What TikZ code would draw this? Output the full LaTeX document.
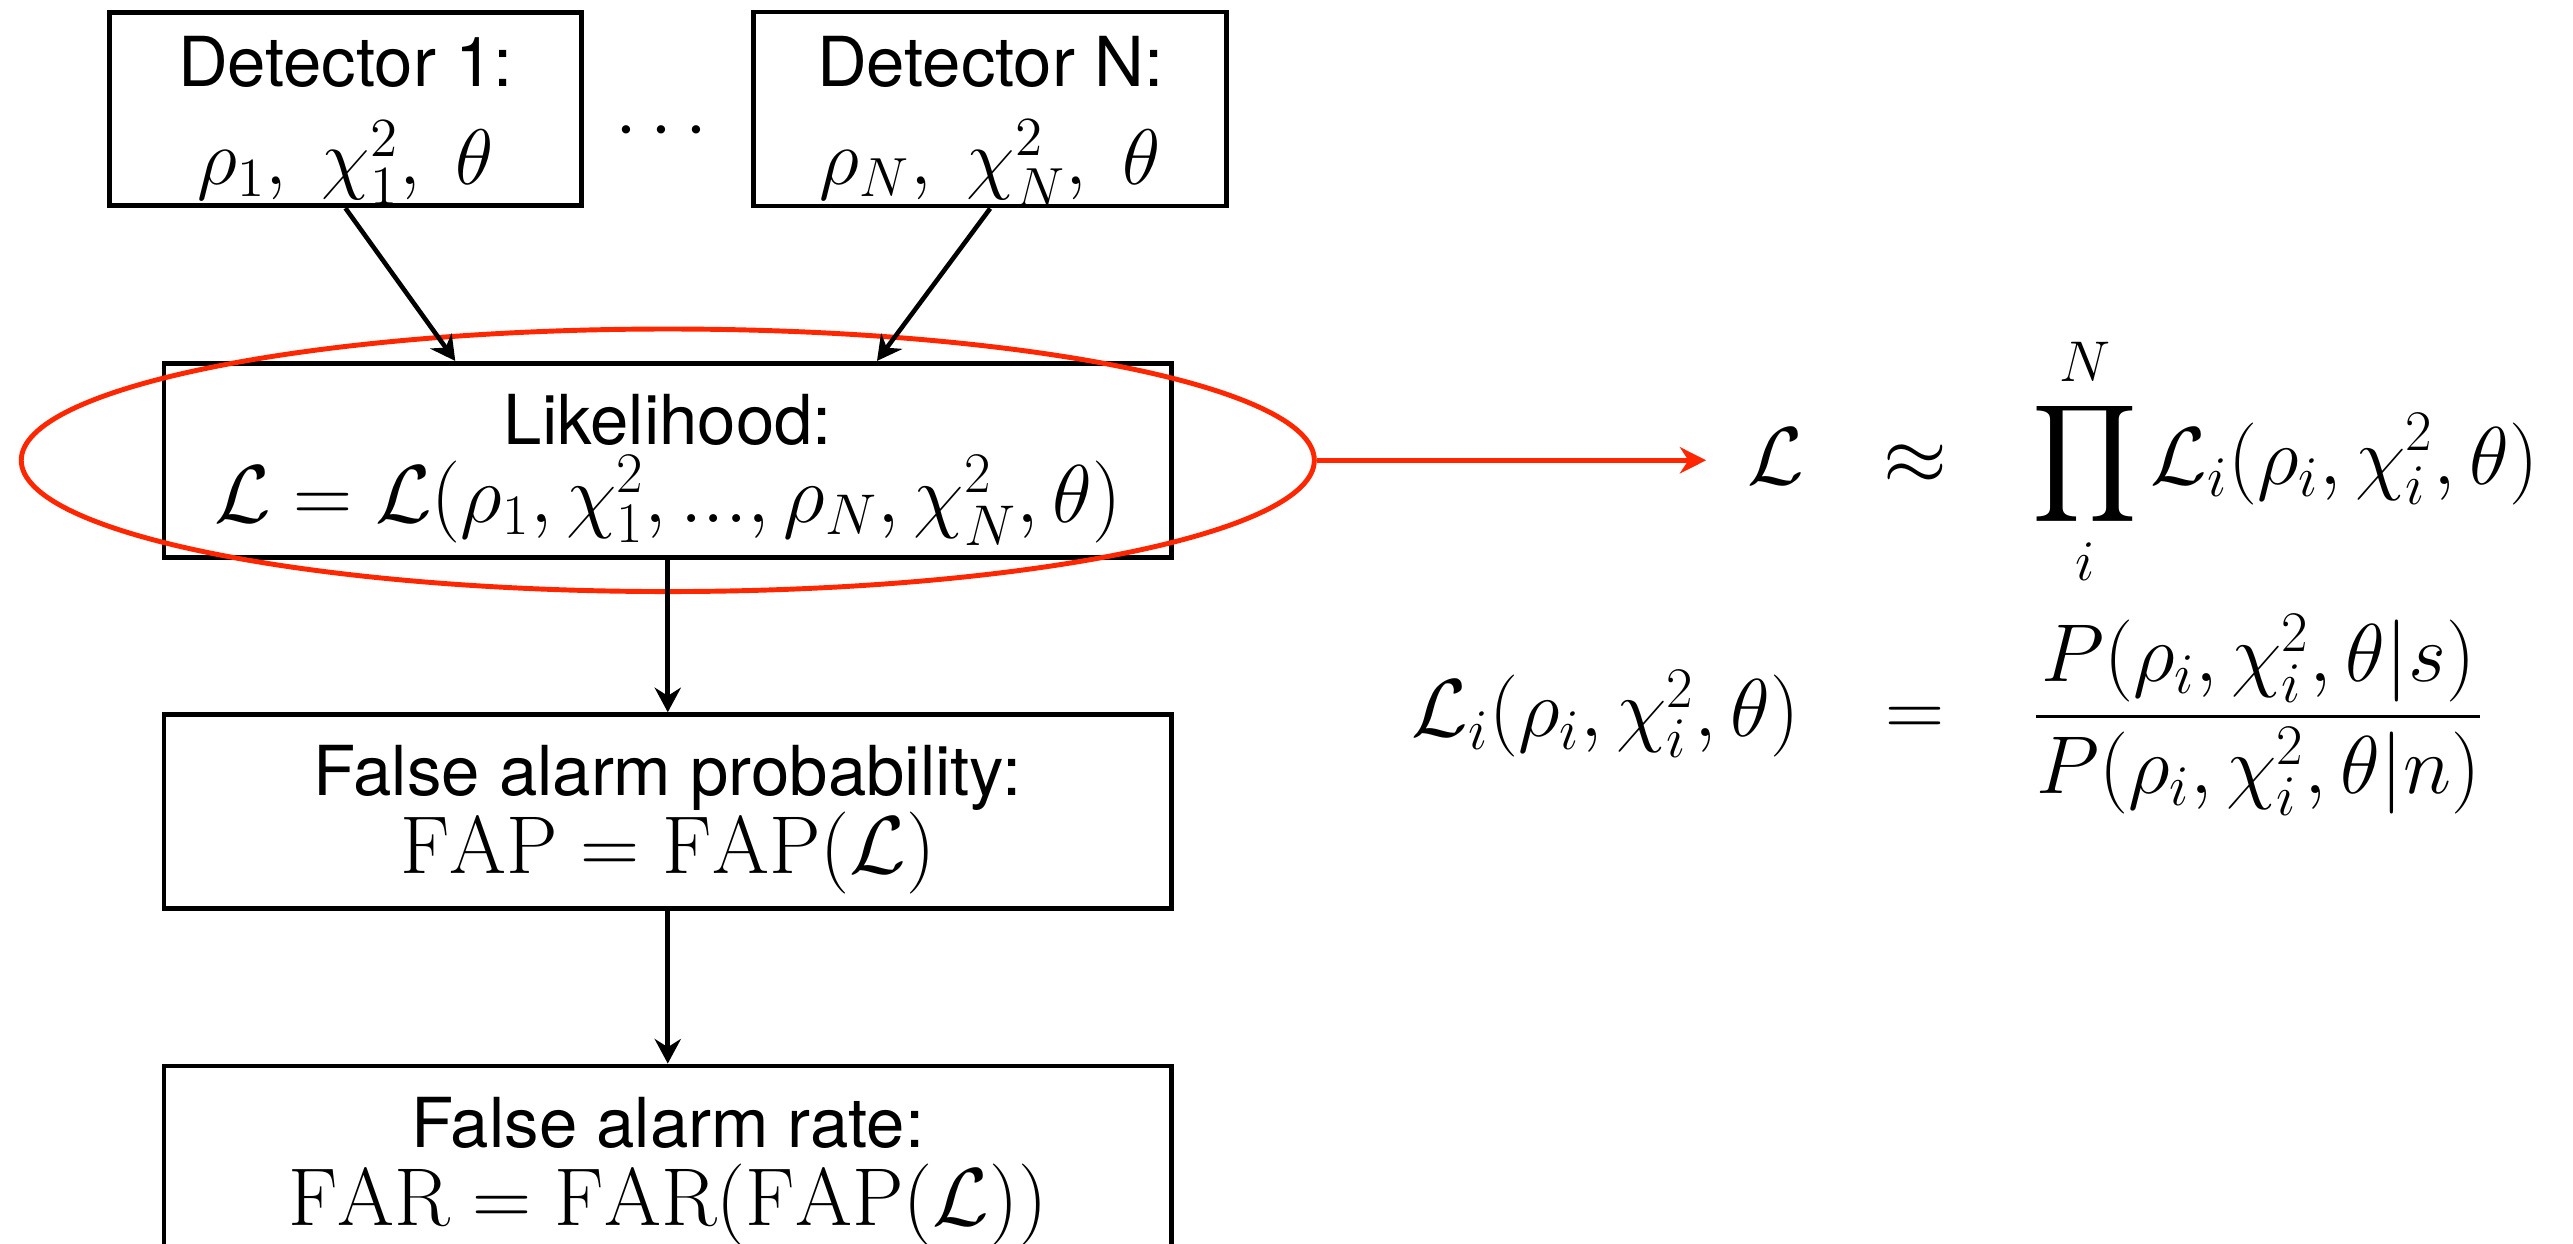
\RequirePackage{fix-cm}
\documentclass[tikz,border=0pt]{standalone}
\usepackage{amsmath,amssymb}
\usepackage{fontspec}
\newfontfamily\helv{TeX Gyre Heros}
\usepackage{tikz}
\usetikzlibrary{shapes.geometric,arrows.meta,positioning,calc}
\definecolor{alarmred}{RGB}{255,38,0}
\newcommand{\eqsz}[1]{\fontsize{#1}{#1}\selectfont}

\begin{document}
\begin{tikzpicture}[
  x=0.5pt, y=0.5pt,
  >={Stealth[length=7.5pt,width=8pt,inset=2.5pt]},
  node distance=46.5pt and 51pt,
  every node/.style={font=\helv\fontsize{21}{25}\selectfont},
  stage/.style={draw, line width=1.45pt, align=center, inner sep=0pt},
  detbox/.style={stage, minimum width=144pt, minimum height=58.9pt},
  widebox/.style={stage, minimum width=307pt, minimum height=59.1pt},
  flow/.style={->, line width=1.4pt},
  eq/.style={inner sep=0pt, font=\eqsz{25}}
]
\useasboundingbox (0,0) rectangle (1568,-758);

% detectors
\node (det1) [detbox] at (210.5,-66.5)
      {\rule{0pt}{22.7pt}Detector 1:\\[4.8pt]{\eqsz{24}$\rho_1,\ \chi_1^2,\ \theta$}\rule[-6.4pt]{0pt}{6.4pt}};
\node (detN) [detbox, right=of det1]
      {\rule{0pt}{22.7pt}Detector N:\\[4.8pt]{\eqsz{24}$\rho_N,\ \chi_N^2,\ \theta$}\rule[-6.4pt]{0pt}{6.4pt}};
\node (dots) [font=\eqsz{24}] at ($(det1)!0.5!(detN)+(0,-14)$) {$\cdots$};

% pipeline
\coordinate (split) at ($(det1.south)!0.5!(detN.south)$);
\node (lik) [widebox, below=of split]
      {\rule{0pt}{24.75pt}Likelihood:\\[-1.25pt]{\eqsz{25}$\mathcal{L}=\mathcal{L}(\rho_1,\chi_1^2,...,\rho_N,\chi_N^2,\theta)$}\rule[-10.6pt]{0pt}{10.6pt}};
\node (fap) [widebox, below=of lik]
      {\rule{0pt}{24.75pt}False alarm probability:\\[-1.25pt]{\eqsz{25}$\mathrm{FAP}=\mathrm{FAP}(\mathcal{L})$}\rule[-10.6pt]{0pt}{10.6pt}};
\node (far) [widebox, below=of fap, minimum height=62pt]
      {\rule{0pt}{24.75pt}False alarm rate:\\[-1.25pt]{\eqsz{25}$\mathrm{FAR}=\mathrm{FAR}(\mathrm{FAP}(\mathcal{L}))$}\rule[-13.5pt]{0pt}{13.5pt}};

\node (sel) [ellipse, draw=alarmred, line width=1.5pt, minimum width=394pt,
             minimum height=80pt, inner sep=0pt] at (lik) {};

\draw[flow] (det1.south) -- ([xshift=-64.75pt]lik.north);
\draw[flow] (detN.south) -- ([xshift=63.75pt]lik.north);
\draw[flow] (lik) -- (fap);
\draw[flow] (fap) -- (far);

% factorised likelihood
\node (lhsA) [eq, anchor=base east] at (1100,-295) {$\mathcal{L}$};
\node (relA) [eq, anchor=base]      at (1167,-295) {$\approx$};
\node (rhsA) [eq, anchor=base west] at (1238,-295)
      {$\displaystyle\prod_{i}^{N}\mathcal{L}_i(\rho_i,\chi_i^2,\theta)$};
\node (lhsB) [eq, anchor=base east] at (1097,-449) {$\mathcal{L}_i(\rho_i,\chi_i^2,\theta)$};
\node (relB) [eq, anchor=base]      at (1167,-449) {$=$};
\node (rhsB) [eq, anchor=base west] at (1238,-449)
      {$\displaystyle\frac{P(\rho_i,\chi_i^2,\theta|s)}{P(\rho_i,\chi_i^2,\theta|n)}$};

\draw[-{Stealth[length=8pt,width=8pt]}, alarmred, line width=1.5pt, shorten >=12.5pt]
     (sel.east) -- (sel.east -| lhsA.west);
\end{tikzpicture}
\end{document}
